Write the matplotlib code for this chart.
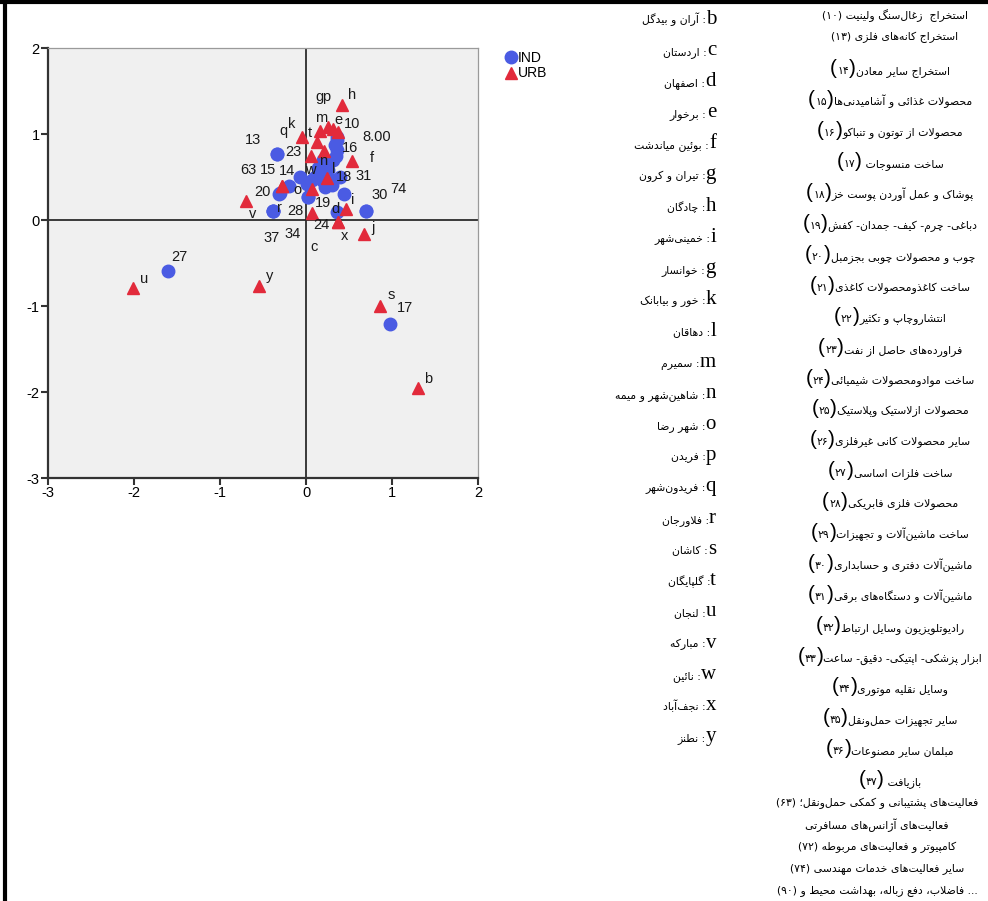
#
# Imports
#
import matplotlib
matplotlib.use("Agg")
import matplotlib.pyplot as plt
from matplotlib.lines import Line2D
from matplotlib.offsetbox import TextArea, HPacker, AnnotationBbox

W, H = 988, 901
plt.rcParams["axes.unicode_minus"] = False

#
# Scatter data: industries (IND) and cities (URB)
#
ind_labels = ["10", "13", "14", "15", "16", "17", "18", "19", "20", "23",
              "24", "27", "28", "30", "31", "34", "37", "63", "74", "8.00",
              "", "", "", "", "", "", "", "", "", "", "", "", "", ""]
ind_x = [0.357, -0.334, -0.070, -0.194, 0.364, 0.977, 0.300, 0.027, -0.310, -0.334,
         0.027, -1.610, -0.380, 0.694, 0.446, -0.380, -0.380, -0.302, 0.694, 0.337,
         0.357, 0.349, 0.318, 0.200, 0.260, 0.143, 0.105, 0.182, 0.221, 0.299,
         0.395, 0.357, 0.066, 0.015]
ind_y = [0.969, 0.767, 0.504, 0.395, 0.814, -1.209, 0.465, 0.264, 0.300, 0.767,
         0.264, -0.593, 0.108, 0.105, 0.298, 0.108, 0.108, 0.310, 0.105, 0.872,
         0.930, 0.744, 0.698, 0.698, 0.580, 0.600, 0.504, 0.465, 0.388, 0.407,
         0.504, 0.097, 0.465, 0.419]

urb_labels = ["b", "c", "d", "e", "f", "g", "h", "i", "j", "k", "l", "m",
              "n", "o", "p", "q", "r", "s", "t", "u", "v", "w", "x", "y"]
urb_x = [1.300, 0.073, 0.376, 0.318, 0.531, 0.260, 0.415, 0.461, 0.678, 0.124, 0.240, 0.163,
         0.210, -0.283, 0.368, 0.060, -0.283, 0.860, -0.050, -2.015, -0.698, 0.073, 0.376, -0.543]
urb_y = [-1.950, 0.078, -0.019, 1.054, 0.686, 1.085, 1.337, 0.124, -0.163, 0.910, 0.485, 1.040,
         0.800, 0.395, 1.027, 0.740, 0.395, -1.000, 0.969, -0.787, 0.225, 0.357, -0.019, -0.767]

# label placement around the markers (pixels, x right / y down)
label_offset = {
    "10": (15, -13), "13": (-24, -14), "14": (-13, -6), "15": (-21, -16),
    "16": (13, -2), "17": (15, -16), "18": (12, -3), "19": (15, 6),
    "20": (-17, -2), "23": (16, -2), "24": (13, 28), "27": (12, -14),
    "28": (22, 0), "30": (14, -16), "31": (19, -18), "34": (19, 23),
    "37": (-2, 27), "63": (-32, -23), "74": (33, -22), "8.00": (42, -8),
    "b": (10, -9), "c": (2, 34), "d": (-3, -13), "e": (5, -9), "f": (20, -3),
    "g": (-9, -30), "h": (10, -10), "i": (7, -9), "j": (9, -6), "k": (-25, -18),
    "l": (7, -9), "m": (1, -13), "n": (-1, 10), "o": (16, 4), "p": (-12, -35),
    "q": (-28, -25), "r": (-2, 22), "s": (11, -11), "t": (8, -4), "u": (11, -9),
    "v": (7, 13), "w": (-2, -19), "x": (6, 14), "y": (10, -10),
}

#
# Key tables
#
city_codes = ["b", "c", "d", "e", "f", "g", "h", "i", "g", "k", "l", "m",
              "n", "o", "p", "q", "r", "s", "t", "u", "v", "w", "x", "y"]
city_names = ["آران و بیدگل", "اردستان", "اصفهان", "برخوار", "بوئین میاندشت",
              "تیران و کرون", "چادگان", "خمینی‌شهر", "خوانسار", "خور و بیابانک",
              "دهاقان", "سمیرم", "شاهین‌شهر و میمه", "شهر رضا", "فریدن",
              "فریدون‌شهر", "فلاورجان", "کاشان", "گلپایگان", "لنجان", "مبارکه",
              "نائین", "نجف‌آباد", "نطنز"]

head_codes = ["۱۰", "۱۳"]
head_names = ["استخراج  زغال‌سنگ ولینیت", "استخراج کانه‌های فلزی"]

isic_codes = ["۱۴", "۱۵", "۱۶", "۱۷", "۱۸", "۱۹", "۲۰", "۲۱", "۲۲", "۲۳", "۲۴", "۲۵",
              "۲۶", "۲۷", "۲۸", "۲۹", "۳۰", "۳۱", "۳۲", "۳۳", "۳۴", "۳۵", "۳۶", "۳۷"]
isic_names = ["استخراج سایر معادن", "محصولات غذائی و آشامیدنی‌ها",
              "محصولات از توتون و تنباکو", " ساخت منسوجات",
              "پوشاک و عمل آوردن پوست خز", "دباغی- چرم- کیف- جمدان- کفش",
              "چوب و محصولات چوبی بجزمبل", "ساخت کاغذومحصولات کاغذی",
              "انتشاروچاپ و تکثیر", "فراورده‌های حاصل از نفت",
              "ساخت موادومحصولات شیمیائی", "محصولات ازلاستیک وپلاستیک",
              "سایر محصولات کانی غیرفلزی", "ساخت فلزات اساسی",
              "محصولات فلزی فابریکی", "ساخت ماشین‌آلات و تجهیزات",
              "ماشین‌آلات دفتری و حسابداری", "ماشین‌آلات و دستگاه‌های برقی",
              "رادیوتلویزیون وسایل ارتباط", "ابزار پزشکی- اپتیکی- دقیق- ساعت",
              "وسایل نقلیه موتوری", "سایر تجهیزات حمل‌ونقل",
              "مبلمان سایر مصنوعات", " بازیافت"]

tail_codes = ["۶۳", "", "۷۲", "۷۴", "۹۰"]
tail_names = ["فعالیت‌های پشتیبانی و کمکی حمل‌ونقل؛",
              "فعالیت‌های آژانس‌های مسافرتی",
              "کامپیوتر و فعالیت‌های مربوطه",
              "سایر فعالیت‌های خدمات مهندسی",
              "فاضلاب، دفع زباله، بهداشت محیط و"]
tail_suffix = ["", "", "", "", " ..."]

#
# Arabic-script shaping (contextual forms, then visual right-to-left order)
#
FORMS = {
    "ا": (0xFE8D, 0xFE8E, None, None), "آ": (0xFE81, 0xFE82, None, None),
    "ب": (0xFE8F, 0xFE90, 0xFE91, 0xFE92), "پ": (0xFB56, 0xFB57, 0xFB58, 0xFB59),
    "ت": (0xFE95, 0xFE96, 0xFE97, 0xFE98), "ث": (0xFE99, 0xFE9A, 0xFE9B, 0xFE9C),
    "ج": (0xFE9D, 0xFE9E, 0xFE9F, 0xFEA0), "چ": (0xFB7A, 0xFB7B, 0xFB7C, 0xFB7D),
    "ح": (0xFEA1, 0xFEA2, 0xFEA3, 0xFEA4), "خ": (0xFEA5, 0xFEA6, 0xFEA7, 0xFEA8),
    "د": (0xFEA9, 0xFEAA, None, None), "ذ": (0xFEAB, 0xFEAC, None, None),
    "ر": (0xFEAD, 0xFEAE, None, None), "ز": (0xFEAF, 0xFEB0, None, None),
    "ژ": (0xFB8A, 0xFB8B, None, None),
    "س": (0xFEB1, 0xFEB2, 0xFEB3, 0xFEB4), "ش": (0xFEB5, 0xFEB6, 0xFEB7, 0xFEB8),
    "ص": (0xFEB9, 0xFEBA, 0xFEBB, 0xFEBC), "ض": (0xFEBD, 0xFEBE, 0xFEBF, 0xFEC0),
    "ط": (0xFEC1, 0xFEC2, 0xFEC3, 0xFEC4), "ظ": (0xFEC5, 0xFEC6, 0xFEC7, 0xFEC8),
    "ع": (0xFEC9, 0xFECA, 0xFECB, 0xFECC), "غ": (0xFECD, 0xFECE, 0xFECF, 0xFED0),
    "ف": (0xFED1, 0xFED2, 0xFED3, 0xFED4), "ق": (0xFED5, 0xFED6, 0xFED7, 0xFED8),
    "ک": (0xFB8E, 0xFB8F, 0xFB90, 0xFB91), "گ": (0xFB92, 0xFB93, 0xFB94, 0xFB95),
    "ل": (0xFEDD, 0xFEDE, 0xFEDF, 0xFEE0), "م": (0xFEE1, 0xFEE2, 0xFEE3, 0xFEE4),
    "ن": (0xFEE5, 0xFEE6, 0xFEE7, 0xFEE8), "ه": (0xFEE9, 0xFEEA, 0xFEEB, 0xFEEC),
    "و": (0xFEED, 0xFEEE, None, None), "ی": (0xFBFC, 0xFBFD, 0xFBFE, 0xFBFF),
    "ئ": (0xFE89, 0xFE8A, 0xFE8B, 0xFE8C),
}
LAM_ALEF = {"ا": (0xFEFB, 0xFEFC), "آ": (0xFEF5, 0xFEF6)}


def joins_forward(c):
    return c in FORMS and FORMS[c][2] is not None


def rtl(text):
    out = []
    i = 0
    n = len(text)
    while i < n:
        c = text[i]
        if c not in FORMS:
            if c != "\u200c":
                out.append(c)
            i += 1
            continue
        prev_j = i > 0 and joins_forward(text[i - 1])
        nxt = text[i + 1] if i + 1 < n else ""
        if c == "ل" and nxt in LAM_ALEF:
            iso, fin = LAM_ALEF[nxt]
            out.append(chr(fin if prev_j else iso))
            i += 2
            continue
        iso, fin, ini, med = FORMS[c]
        next_j = ini is not None and nxt in FORMS
        if prev_j and next_j:
            g = med
        elif prev_j:
            g = fin
        elif next_j:
            g = ini
        else:
            g = iso
        out.append(chr(g))
        i += 1
    return "".join(reversed(out))


FA = ["DejaVu Sans"]
SANS = ["Liberation Sans", "DejaVu Sans"]
SERIF = ["Liberation Serif", "DejaVu Serif"]
SMALL = dict(family=FA, size=7.8, color="black")


def place(fig, boxes, px, py, halign):
    pack = HPacker(children=boxes, align="baseline", pad=0, sep=0)
    ab = AnnotationBbox(pack, (px, H - py), xycoords="figure pixels",
                        box_alignment=(halign, 0.5), frameon=False, pad=0)
    fig.add_artist(ab)


#
# Figure
#
fig = plt.figure(figsize=(W / 100, H / 100), dpi=100)
fig.patch.set_facecolor("white")

ax = fig.add_axes([48 / W, 1 - 478 / H, 430 / W, 430 / H])
ax.set_facecolor("#f0f0f0")
ax.set_xlim(-3, 2)
ax.set_ylim(-3, 2)
ax.set_xticks(range(-3, 3))
ax.set_yticks(range(-3, 3))
ax.tick_params(direction="out", length=5, width=1.5, color="#333333",
               labelsize=10.5, pad=1)
for lab in ax.get_xticklabels() + ax.get_yticklabels():
    lab.set_family(SANS)
for side in ("left", "bottom"):
    ax.spines[side].set_color("#333333")
    ax.spines[side].set_linewidth(1.6)
for side in ("top", "right"):
    ax.spines[side].set_color("#9a9a9a")
    ax.spines[side].set_linewidth(0.9)

ax.axhline(0, color="#2b2b2b", lw=1.3, zorder=2)
ax.axvline(0, color="#2b2b2b", lw=1.3, zorder=2)

blue = "#4a5be3"
red = "#e22a3b"
ax.plot(ind_x, ind_y, ls="none", marker="o", ms=9, mfc=blue, mec=blue, zorder=3)
ax.plot(urb_x, urb_y, ls="none", marker="^", ms=8.5, mfc=red, mec=red, zorder=4)

for lab, x, y in list(zip(ind_labels, ind_x, ind_y)) + list(zip(urb_labels, urb_x, urb_y)):
    if not lab:
        continue
    dx, dy = label_offset.get(lab, (11, -11))
    ax.annotate(lab, (x, y), xytext=(dx, -dy), textcoords="offset pixels",
                ha="center", va="center", fontsize=10.5, family=SANS,
                color="#1a1a1a", zorder=5)

handles = [Line2D([], [], ls="none", marker="o", ms=9, mfc=blue, mec=blue, label="IND"),
           Line2D([], [], ls="none", marker="^", ms=9, mfc=red, mec=red, label="URB")]
fig.legend(handles=handles, loc="upper left", bbox_to_anchor=(505 / W, 1 - 51 / H),
           frameon=False, handlelength=0.9, handletextpad=0.05,
           labelspacing=0.1, borderpad=0, borderaxespad=0,
           prop={"family": SANS, "size": 10})

#
# Cities key
#
for k, (code, name) in enumerate(zip(city_codes, city_names)):
    y = 19 + 31.2 * k
    boxes = [TextArea(rtl(name) + " :", textprops=SMALL),
             TextArea(code, textprops=dict(family=SERIF, size=15, color="black"))]
    place(fig, boxes, 716, y, 1.0)

#
# Industries key
#
for k, (code, name) in enumerate(zip(head_codes, head_names)):
    txt = "(" + code + ") " + rtl(name)
    place(fig, [TextArea(txt, textprops=SMALL)], 895, 16 + 21 * k, 0.5)

big = dict(family=SANS, size=15, color="black")
for k, (code, name) in enumerate(zip(isic_codes, isic_names)):
    y = 69 + 30.9 * k
    # a leading blank in the name stays between the bracket and the words
    gap = " " if name.startswith(" ") else ""
    boxes = [TextArea("(", textprops=big), TextArea(code, textprops=SMALL),
             TextArea(")", textprops=big),
             TextArea(gap + rtl(name.strip()), textprops=SMALL)]
    place(fig, boxes, 890, y, 0.5)

for k, (code, name, suf) in enumerate(zip(tail_codes, tail_names, tail_suffix)):
    txt = ("(" + code + ") " if code else "") + rtl(name) + suf
    place(fig, [TextArea(txt, textprops=SMALL)], 877, 803 + 22 * k, 0.5)

# page borders
fig.add_artist(Line2D([5 / W, 5 / W], [0, 1], transform=fig.transFigure,
                      color="black", lw=3))
fig.add_artist(Line2D([0, 1], [1 - 1.5 / H, 1 - 1.5 / H], transform=fig.transFigure,
                      color="black", lw=3))

fig.savefig("out.png", dpi=100)
